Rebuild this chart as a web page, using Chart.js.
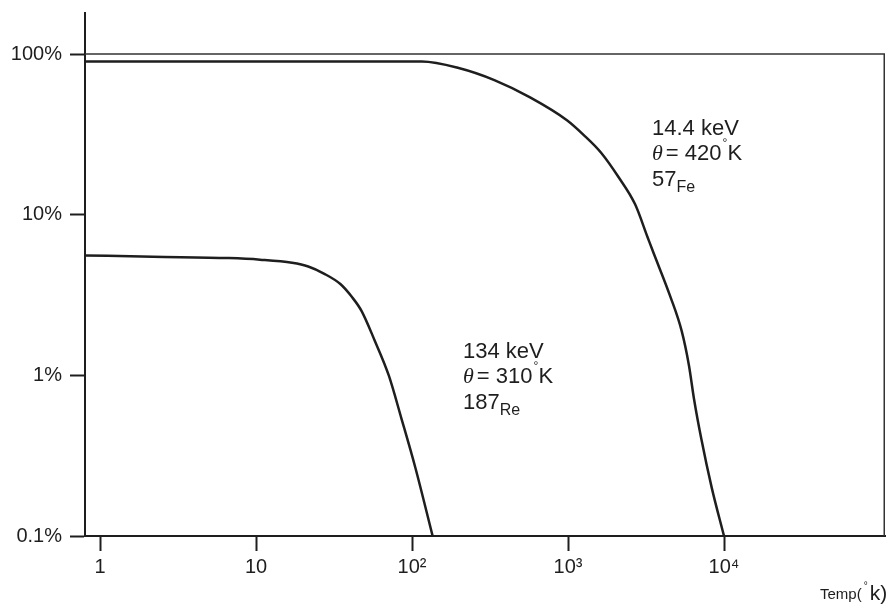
<!DOCTYPE html>
<html>
<head>
<meta charset="utf-8">
<script src="https://cdn.jsdelivr.net/npm/chart.js@4/dist/chart.umd.min.js"></script>
<style>
  body { margin: 0; background: #fff; }
  canvas { display: block; }
</style>
</head>
<body>
<canvas id="grafico" width="892" height="604"></canvas>
<script>
// ejes
const xTicks = [1, 10, 100, 1000, 10000];
const xLabels = ['1', '10', '10²', '10³', '10⁴'];
const yTicks = [0.1, 1, 10, 100];
const yLabels = ['0.1%', '1%', '10%', '100%'];

// 57Fe, 14.4 keV
const feTemp = [0.8, 30, 115.5, 199, 337, 571, 984, 1257, 1629, 2111, 2692, 3236, 3491, 4529, 5352, 5957, 6427, 7147, 8340, 10000];
const fePct = [89.8, 89.8, 89.8, 81.8, 68.8, 53.7, 38.7, 31.4, 24.3, 17.1, 11.6, 7.24, 5.96, 3.09, 1.89, 1.156, 0.71, 0.404, 0.2, 0.1];

// 187Re, 134 keV
const reTemp = [0.8, 2.18, 6.68, 10.6, 17.0, 21.6, 27.2, 34.7, 41.2, 47.5, 57.3, 71.0, 85.5, 105, 135.5];
const rePct = [5.58, 5.47, 5.37, 5.25, 5.02, 4.76, 4.30, 3.70, 3.07, 2.51, 1.666, 0.995, 0.538, 0.266, 0.1];

const negro = '#1e1e1e';
const fuente = '"Liberation Sans", Arial, sans-serif';

function puntos(xs, ys) {
    return xs.map((x, i) => ({ x: x, y: ys[i] }));
}

// marco: linea del 100% y borde derecho
const marco = {
    id: 'marco',
    afterDraw(chart) {
        const ctx = chart.ctx;
        const area = chart.chartArea;
        const y100 = chart.scales.y.getPixelForValue(100);
        ctx.save();
        ctx.strokeStyle = '#333';
        ctx.lineWidth = 1.5;
        ctx.beginPath();
        ctx.moveTo(area.left, y100);
        ctx.lineTo(area.right - 0.75, y100);
        ctx.lineTo(area.right - 0.75, area.bottom);
        ctx.stroke();
        ctx.restore();
    }
};

// textos de las curvas
const textos = {
    id: 'textos',
    afterDraw(chart) {
        const ctx = chart.ctx;
        ctx.save();
        ctx.fillStyle = negro;
        ctx.textBaseline = 'alphabetic';

        function bloque(x, y, energia, theta, masa, elem) {
            ctx.font = '22px ' + fuente;
            ctx.fillText(energia, x, y);
            ctx.font = 'italic 22px "Liberation Serif", serif';
            ctx.fillText('θ', x, y + 25);
            let w = ctx.measureText('θ').width;
            ctx.font = '22px ' + fuente;
            ctx.fillText('= ' + theta, x + w + 3, y + 25);
            let w2 = ctx.measureText('= ' + theta).width;
            ctx.font = '12px ' + fuente;
            ctx.fillText('°', x + w + 4 + w2, y + 12);
            ctx.font = '22px ' + fuente;
            ctx.fillText('K', x + w + 9 + w2, y + 25);
            ctx.fillText(masa, x, y + 51);
            let w3 = ctx.measureText(masa).width;
            ctx.font = '16px ' + fuente;
            ctx.fillText(elem, x + w3, y + 57);
        }

        bloque(652, 135, '14.4 keV', '420', '57', 'Fe');
        bloque(463, 358, '134 keV', '310', '187', 'Re');

        // titulo eje x
        ctx.font = '15px ' + fuente;
        ctx.fillText('Temp(', 820, 599);
        let wt = ctx.measureText('Temp(').width;
        ctx.font = '10px ' + fuente;
        ctx.fillText('°', 820 + wt + 2, 589);
        ctx.font = '21px ' + fuente;
        ctx.fillText('k)', 820 + wt + 8, 600);
        ctx.restore();
    }
};

const ctx = document.getElementById('grafico').getContext('2d');
const grafico = new Chart(ctx, {
    type: 'line',
    data: {
        datasets: [
            {
                label: '57Fe',
                data: puntos(feTemp, fePct),
                borderColor: negro,
                borderWidth: 2.5,
                cubicInterpolationMode: 'monotone',
                pointRadius: 0,
                fill: false
            },
            {
                label: '187Re',
                data: puntos(reTemp, rePct),
                borderColor: negro,
                borderWidth: 2.5,
                cubicInterpolationMode: 'monotone',
                pointRadius: 0,
                fill: false
            }
        ]
    },
    options: {
        responsive: false,
        animation: false,
        layout: { padding: { top: 13, right: 7, left: 0, bottom: 0 } },
        plugins: {
            legend: { display: false },
            tooltip: { enabled: false }
        },
        scales: {
            x: {
                type: 'logarithmic',
                min: 0.8,
                max: 107700,
                afterBuildTicks: s => { s.ticks = xTicks.map(v => ({ value: v })); },
                afterFit: s => { s.height = 68; s.paddingLeft = 0; s.paddingRight = 0; },
                ticks: {
                    autoSkip: false,
                    maxRotation: 0,
                    padding: 4,
                    color: negro,
                    font: { family: fuente, size: 20 },
                    callback: v => xLabels[xTicks.indexOf(v)]
                },
                grid: {
                    drawOnChartArea: false,
                    tickLength: 15,
                    tickWidth: 2,
                    tickColor: negro
                },
                border: { color: negro, width: 2 }
            },
            y: {
                type: 'logarithmic',
                min: 0.1,
                max: 180,
                afterBuildTicks: s => { s.ticks = yTicks.map(v => ({ value: v })); },
                afterFit: s => { s.width = 85; s.paddingTop = 0; s.paddingBottom = 0; },
                ticks: {
                    autoSkip: false,
                    padding: 8,
                    color: negro,
                    font: { family: fuente, size: 20 },
                    callback: v => yLabels[yTicks.indexOf(v)]
                },
                grid: {
                    drawOnChartArea: false,
                    tickLength: 15,
                    tickWidth: 2,
                    tickColor: negro
                },
                border: { color: negro, width: 2 }
            }
        }
    },
    plugins: [marco, textos]
});
</script>
</body>
</html>
